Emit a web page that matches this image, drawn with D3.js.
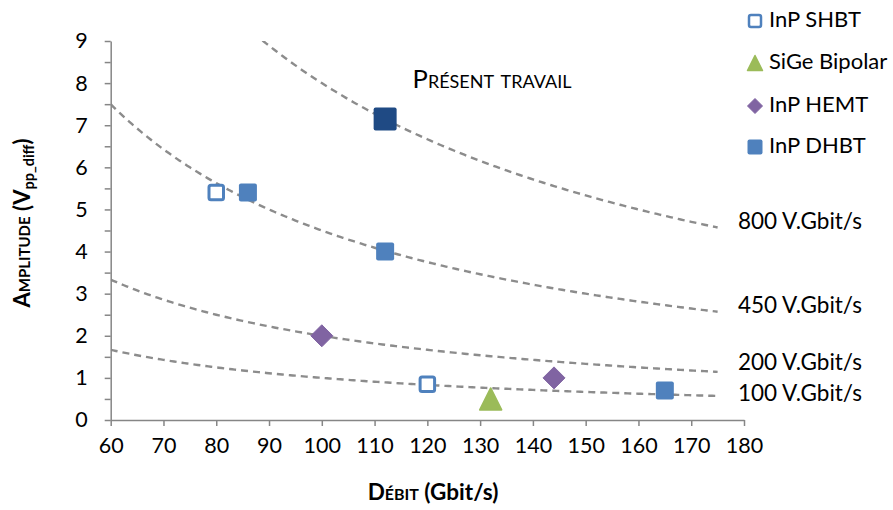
<!DOCTYPE html>
<html><head><meta charset="utf-8">
<script src="https://cdn.jsdelivr.net/npm/d3@7"></script>
<style>
body{margin:0;background:#fff;}
text{font-family:Lato,"Open Sans",sans-serif;fill:#000;}
</style></head>
<body><svg id="c" width="893" height="510"></svg>
<script>
// ---- data ----
const xTicks = [60,70,80,90,100,110,120,130,140,150,160,170,180];
const yTicks = [0,1,2,3,4,5,6,7,8,9];
const shbtX = [80,120], shbtY = [5.4,0.85];
const sigeX = [132], sigeY = [0.5];
const hemtX = [100,144], hemtY = [2,1];
const dhbtX = [86,112,165], dhbtY = [5.4,4,0.7];
const presentX = [112], presentY = [7.15];
const curveK = [800,450,200,100];
const curveLabels = ["800 V.Gbit/s","450 V.Gbit/s","200 V.Gbit/s","100 V.Gbit/s"];
const curveXStart = 60, curveXEnd = 175;
const legendNames = ["InP SHBT","SiGe Bipolar","InP HEMT","InP DHBT"];

const svg = d3.select("#c");
const x = d3.scaleLinear().domain([60,180]).range([110.7,744]);
const y = d3.scaleLinear().domain([0,9]).range([420,41]);
const blue="#4F81BD", green="#9BBB59", purple="#8064A2", navy="#1F4A84", axisC="#868686";
const labelShift = {800:-4, 450:-4, 200:-8, 100:-1};

// curves
svg.append("defs").append("clipPath").attr("id","clip").append("rect")
  .attr("x",x(60)).attr("y",y(9)).attr("width",x(180)-x(60)).attr("height",y(0)-y(9));
const line = d3.line().x(d=>x(d[0])).y(d=>y(d[1]));
curveK.forEach((k,i)=>{
  const pts = d3.range(curveXStart, curveXEnd+0.001, 0.5).map(v=>[v,k/v]).filter(p=>p[1]<=9.2);
  svg.append("path").attr("d",line(pts)).attr("fill","none").attr("stroke","#8C8C8C")
    .attr("stroke-width",2.4).attr("stroke-dasharray","7,5").attr("clip-path","url(#clip)");
  svg.append("text").attr("x",738).attr("y",y(k/curveXEnd)+labelShift[k]).attr("dominant-baseline","middle")
    .attr("font-size",22.5).text(curveLabels[i]);
});

// axes
const xa = svg.append("g").attr("transform",`translate(0,${y(0)})`)
  .call(d3.axisBottom(x).tickValues(xTicks).tickSize(6).tickPadding(12).tickSizeOuter(0));
xa.select(".domain").attr("stroke",axisC).attr("stroke-width",1.5);
xa.selectAll(".tick line").attr("stroke",axisC).attr("stroke-width",1.5);
xa.selectAll(".tick text").attr("font-size",21.5).attr("font-family","Lato,'Open Sans',sans-serif").attr("fill","#000");

const yMinor = d3.range(0,9.01,0.5);
const ya = svg.append("g").attr("transform",`translate(${x(60)},0)`)
  .call(d3.axisLeft(y).tickValues(yMinor).tickSize(6).tickPadding(17).tickSizeOuter(0)
    .tickFormat(d=>yTicks.includes(d)?d3.format("d")(d):""));
ya.select(".domain").attr("stroke",axisC).attr("stroke-width",1.5);
ya.selectAll(".tick line").attr("stroke",axisC).attr("stroke-width",1.5);
ya.selectAll(".tick text").attr("font-size",21.5).attr("font-family","Lato,'Open Sans',sans-serif").attr("fill","#000");

// markers
function sq(g,cx,cy,s,fill,stroke,sw){
  g.append("rect").attr("x",cx-s/2).attr("y",cy-s/2).attr("width",s).attr("height",s)
   .attr("rx",2).attr("fill",fill).attr("stroke",stroke||"none").attr("stroke-width",sw||0);
}
function tri(g,cx,cy,w){
  const h=w;
  g.append("path").attr("d",`M${cx},${cy-h/2}L${cx+w/2},${cy+h/2}L${cx-w/2},${cy+h/2}Z`)
   .attr("fill",green).attr("stroke",green).attr("stroke-width",1.5).attr("stroke-linejoin","round");
}
function dia(g,cx,cy,w){
  g.append("path").attr("d",`M${cx},${cy-w/2}L${cx+w/2},${cy}L${cx},${cy+w/2}L${cx-w/2},${cy}Z`)
   .attr("fill",purple).attr("stroke",purple).attr("stroke-width",1).attr("stroke-linejoin","round");
}
const m = svg.append("g");
shbtX.forEach((v,i)=>sq(m,x(v),y(shbtY[i]),14.5,"#fff",blue,3));
sigeX.forEach((v,i)=>tri(m,x(v),y(sigeY[i]),22));
hemtX.forEach((v,i)=>dia(m,x(v),y(hemtY[i]),22));
dhbtX.forEach((v,i)=>sq(m,x(v),y(dhbtY[i]),18,blue));
presentX.forEach((v,i)=>sq(m,x(v),y(presentY[i]),23,navy));

svg.append("text").attr("x",492).attr("y",82).attr("text-anchor","middle").attr("dominant-baseline","middle")
  .attr("font-size",25.5).style("font-variant","small-caps").text("Présent travail");

// legend
const lg = svg.append("g");
const ly = [21,63,106,147];
sq(lg,755,ly[0],12,"#fff",blue,2.5);
tri(lg,755,ly[1],15);
dia(lg,755,ly[2],15);
sq(lg,755,ly[3],15,blue);
legendNames.forEach((n,i)=>lg.append("text").attr("x",769).attr("y",ly[i]).attr("dominant-baseline","middle")
  .attr("font-size",22).text(n));

// axis titles
const xt = svg.append("text").attr("x",433).attr("y",494).attr("text-anchor","middle").attr("dominant-baseline","middle")
  .attr("font-size",22.5).attr("font-weight","bold");
xt.append("tspan").style("font-variant","small-caps").text("Débit ");
xt.append("tspan").text("(Gbit/s)");
const yt = svg.append("text").attr("transform","translate(30,223) rotate(-90)").attr("text-anchor","middle")
  .attr("font-size",22).attr("font-weight","bold");
yt.append("tspan").style("font-variant","small-caps").text("Amplitude ");
yt.append("tspan").text("(V");
yt.append("tspan").attr("font-size",14.5).attr("baseline-shift","-25%").text("pp_diff");
yt.append("tspan").text(")");
</script></body></html>
